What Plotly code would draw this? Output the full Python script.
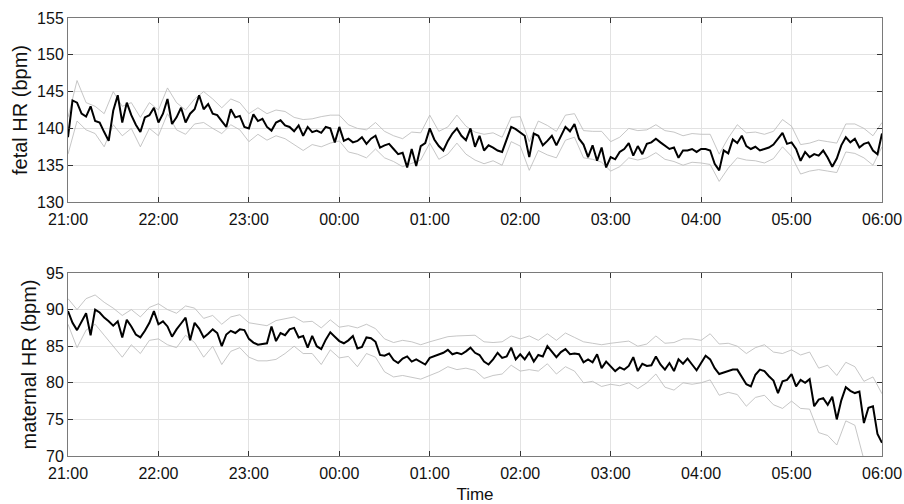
import plotly.graph_objects as go

# ---------------- data ----------------
tick_minutes = [0, 60, 120, 180, 240, 300, 360, 420, 480, 540]
tick_labels = ["21:00", "22:00", "23:00", "00:00", "01:00", "02:00", "03:00", "04:00", "05:00", "06:00"]

mean_minutes = list(range(0, 541, 3))   # minutes after 21:00
band_minutes = list(range(0, 541, 6))

fetal_mean = [
    138.8, 143.8, 143.5, 142.0, 141.6, 143.0, 141.0, 140.8, 139.5, 138.3, 142.4, 144.5, 140.8, 143.5, 141.8, 140.5, 139.5, 141.5, 141.8, 142.8,
    140.8, 142.0, 144.0, 140.6, 141.5, 142.8, 140.8, 142.0, 142.6, 144.5, 142.6, 143.3, 142.0, 141.8, 141.0, 140.2, 142.6, 141.5, 141.7, 140.2,
    140.0, 141.9, 141.0, 141.3, 140.2, 139.7, 140.8, 141.1, 140.4, 140.2, 139.6, 140.4, 139.0, 140.2, 139.5, 139.7, 139.4, 140.2, 140.0, 138.1,
    140.2, 138.3, 138.6, 138.1, 138.3, 138.8, 137.9, 138.6, 139.0, 137.4, 137.7, 137.9, 137.2, 136.5, 136.7, 134.7, 137.2, 134.9, 137.6, 138.0,
    140.0, 138.5, 137.6, 137.0, 138.3, 139.3, 140.0, 139.0, 138.4, 140.0, 137.5, 139.0, 137.0, 137.7, 137.4, 137.0, 136.8, 138.6, 140.2, 139.9,
    139.5, 139.0, 136.1, 139.3, 139.0, 137.7, 138.3, 139.0, 137.7, 139.0, 140.2, 139.6, 140.6, 138.6, 137.8, 136.1, 137.7, 135.6, 137.4, 134.7,
    136.1, 135.8, 136.8, 137.2, 138.0, 136.3, 137.6, 136.5, 137.9, 138.1, 138.6, 138.1, 137.6, 137.2, 137.4, 136.0, 137.0, 137.0, 137.2, 136.8,
    137.2, 137.2, 137.0, 135.2, 134.3, 137.0, 136.6, 138.5, 138.0, 139.0, 137.6, 137.2, 137.5, 137.0, 137.2, 137.4, 137.8, 138.6, 139.4, 137.9,
    138.1, 137.2, 135.6, 136.8, 136.1, 136.5, 136.3, 137.0, 136.0, 134.8, 135.9, 137.7, 138.8, 138.1, 138.6, 137.4, 137.9, 138.1, 137.0, 136.5,
    139.3,
]

fetal_upper = [
    141.5, 146.5, 143.5, 143.0, 142.0, 145.0, 143.0, 143.5, 141.5, 143.5,
    142.5, 145.5, 143.5, 142.5, 144.0, 145.0, 144.0, 142.8, 144.0, 143.5,
    142.0, 142.8, 142.0, 142.5, 142.3, 141.5, 141.2, 141.3, 141.6, 141.8,
    141.8, 140.5, 140.0, 139.8, 140.8, 139.6, 139.0, 138.6, 139.5, 139.4,
    141.8, 139.6, 140.2, 141.8, 140.3, 139.5, 139.2, 139.4, 138.8, 141.5,
    141.6, 138.2, 141.0, 140.4, 139.6, 141.8, 142.0, 139.7, 139.6, 139.6,
    138.2, 138.8, 140.0, 139.7, 139.8, 140.5, 139.7, 139.5, 139.0, 139.3,
    139.2, 139.2, 136.5, 138.7, 140.5, 139.4, 139.5, 139.2, 139.6, 141.2,
    140.3, 137.8, 138.0, 138.4, 138.2, 138.0, 140.6, 140.6, 140.0, 139.0,
    140.8,
]

fetal_lower = [
    136.5, 141.0, 139.8, 139.3, 137.5, 140.5, 139.0, 140.0, 137.5, 140.0,
    139.0, 142.0, 139.8, 139.2, 140.6, 140.8, 140.0, 139.3, 140.5, 139.8,
    138.2, 139.2, 138.4, 139.0, 138.6, 137.8, 137.0, 137.8, 137.5, 138.0,
    138.3, 136.8, 136.5, 136.0, 137.2, 136.0, 135.5, 134.8, 135.3, 135.7,
    138.0, 135.8, 136.5, 138.0, 136.5, 135.7, 135.2, 135.6, 135.0, 138.2,
    137.6, 134.3, 137.0, 136.4, 136.0, 138.4, 138.8, 136.0, 135.8, 135.4,
    134.2, 134.8, 136.0, 135.7, 136.0, 136.7, 135.8, 135.5, 135.0, 135.4,
    135.3, 135.1, 132.8, 134.6, 136.0, 135.7, 135.6, 135.3, 135.9, 137.5,
    136.2, 133.8, 134.2, 134.4, 134.2, 134.0, 136.8, 136.6, 136.0, 135.0,
    137.5,
]

maternal_mean = [
    89.8, 88.2, 87.2, 88.4, 89.5, 86.5, 90.0, 89.6, 88.9, 88.4, 87.8, 88.4, 86.2, 88.6, 87.7, 86.6, 86.2, 87.1, 88.2, 89.8,
    88.0, 88.4, 87.7, 86.3, 87.3, 88.1, 88.9, 85.8, 88.2, 87.4, 86.2, 86.7, 87.3, 86.8, 85.0, 86.6, 87.1, 86.8, 87.3, 87.2,
    86.0, 85.5, 85.2, 85.3, 85.4, 87.7, 85.7, 86.8, 86.5, 87.3, 87.5, 86.2, 86.4, 84.8, 86.4, 85.0, 84.6, 85.9, 86.9, 86.3,
    85.7, 85.4, 85.8, 86.4, 84.7, 84.9, 86.2, 86.1, 85.6, 83.8, 83.7, 84.0, 83.1, 82.7, 83.3, 83.6, 82.9, 83.2, 82.9, 82.5,
    83.4, 83.6, 83.9, 84.1, 84.5, 83.9, 84.1, 83.9, 84.3, 84.8, 84.1, 83.8, 82.9, 82.5, 83.2, 84.1, 83.4, 83.6, 84.8, 83.2,
    83.9, 83.2, 84.1, 82.9, 83.8, 83.6, 85.0, 84.3, 83.5, 84.2, 84.6, 83.9, 84.0, 83.9, 82.8, 83.2, 82.8, 83.9, 82.0, 82.9,
    82.3, 81.6, 82.1, 81.8, 82.3, 83.5, 81.6, 82.6, 82.3, 82.4, 83.6, 82.5, 81.8, 82.7, 81.6, 83.2, 82.6, 83.3, 82.5, 81.7,
    82.7, 83.7, 83.2, 82.0, 81.2, 81.4, 81.7, 81.8, 81.8, 80.7, 79.8, 79.5, 81.1, 81.8, 81.6, 80.9, 80.3, 78.6, 80.2, 80.4,
    81.2, 79.5, 80.4, 80.0, 80.5, 76.8, 77.7, 77.9, 77.0, 78.1, 75.0, 77.6, 79.4, 78.9, 78.6, 78.8, 74.5, 76.6, 76.8, 73.0,
    71.8,
]

maternal_upper = [
    91.5, 90.0, 91.5, 92.0, 91.0, 90.2, 89.2, 90.0, 89.0, 90.3,
    90.8, 90.0, 89.5, 90.5, 90.2, 88.8, 89.2, 88.0, 89.0, 89.3,
    88.2, 88.0, 87.8, 88.5, 88.8, 89.0, 88.3, 88.4, 87.5, 88.6,
    87.6, 87.8, 87.5, 88.0, 87.4, 86.0, 85.5, 85.8, 85.6, 85.2,
    85.6, 86.0, 86.3, 86.4, 86.4, 86.5, 85.6, 85.5, 85.6, 86.4,
    86.0, 86.4, 85.8, 86.7, 85.8, 86.8, 86.2, 85.6, 85.4, 85.2,
    85.4, 85.6, 85.7, 85.0, 85.3, 86.4, 85.4, 85.5, 86.0, 86.0,
    85.8, 86.7, 85.3, 85.4, 85.0, 84.0, 84.8, 85.2, 84.2, 84.0,
    84.5, 83.8, 84.2, 82.0, 82.4, 81.0, 82.8, 82.2, 80.2, 80.8,
    78.5,
]

maternal_lower = [
    88.0, 84.8, 87.2, 88.0, 86.5, 85.0, 83.5, 85.2, 84.0, 85.8,
    86.0, 85.2, 84.8, 86.5, 85.5, 83.5, 85.0, 82.5, 84.3, 84.8,
    83.5, 83.0, 83.0, 83.2, 84.0, 85.0, 84.0, 84.0, 82.5, 84.5,
    83.4, 83.6, 82.2, 84.0, 83.5, 81.5, 80.8, 81.0, 80.7, 80.5,
    81.0, 81.5, 82.2, 81.8, 82.0, 81.7, 80.6, 81.0, 81.2, 82.4,
    81.6, 81.8, 81.6, 82.6, 81.2, 82.2, 81.6, 80.0, 80.2, 79.5,
    79.8, 79.6, 80.0, 79.2, 80.0, 81.2, 79.4, 79.0, 80.0, 79.8,
    80.0, 80.4, 78.3, 78.7, 78.4, 76.8, 78.0, 78.3, 77.0, 76.5,
    77.5, 76.5, 76.4, 73.2, 72.8, 71.5, 74.8, 74.2, 69.5, 69.0,
    67.0,
]

# ---------------- figure ----------------
FONT = "Liberation Sans, Arial, Helvetica, sans-serif"
GRAY = "#b8b8b8"

fig = go.Figure()

def add_panel(xa, ya, mean, upper, lower):
    for band in (upper, lower):
        fig.add_trace(go.Scatter(x=band_minutes, y=band, mode="lines",
                                 line=dict(color=GRAY, width=0.8),
                                 xaxis=xa, yaxis=ya, showlegend=False, hoverinfo="skip"))
    fig.add_trace(go.Scatter(x=mean_minutes, y=mean, mode="lines",
                             line=dict(color="black", width=2),
                             xaxis=xa, yaxis=ya, showlegend=False))

add_panel("x", "y", fetal_mean, fetal_upper, fetal_lower)
add_panel("x2", "y2", maternal_mean, maternal_upper, maternal_lower)

axis_common = dict(
    showline=True, linecolor="#7a7a7a", linewidth=1, mirror="allticks",
    ticks="inside", ticklen=5, tickcolor="#333333",
    showgrid=True, gridcolor="#e2e2e2", gridwidth=1,
    zeroline=False, tickfont=dict(family=FONT, size=16, color="#111111"),
    automargin=False,
)

x_left, x_right = 68 / 904, 882 / 904
fig.update_layout(
    width=904, height=504,
    margin=dict(l=0, r=0, t=0, b=0),
    paper_bgcolor="white", plot_bgcolor="white",
    font=dict(family=FONT, size=16, color="#111111"),
    xaxis=dict(domain=[x_left, x_right], anchor="y", range=[0, 540],
               tickvals=tick_minutes, ticktext=tick_labels, ticklabelstandoff=3,
               **axis_common),
    yaxis=dict(domain=[1 - 202 / 504, 1 - 18 / 504], anchor="x", range=[130, 155],
               tickvals=[130, 135, 140, 145, 150, 155],
               title=dict(text="fetal HR (bpm)", font=dict(family=FONT, size=20), standoff=4),
               **axis_common),
    xaxis2=dict(domain=[x_left, x_right], anchor="y2", range=[0, 540],
                tickvals=tick_minutes, ticktext=tick_labels, ticklabelstandoff=3,
                title=dict(text="Time", font=dict(family=FONT, size=17), standoff=6),
                **axis_common),
    yaxis2=dict(domain=[1 - 456 / 504, 1 - 273 / 504], anchor="x2", range=[70, 95],
                tickvals=[70, 75, 80, 85, 90, 95],
                title=dict(text="maternal HR (bpm)", font=dict(family=FONT, size=20), standoff=4),
                **axis_common),
)

fig.write_html("out.html")
